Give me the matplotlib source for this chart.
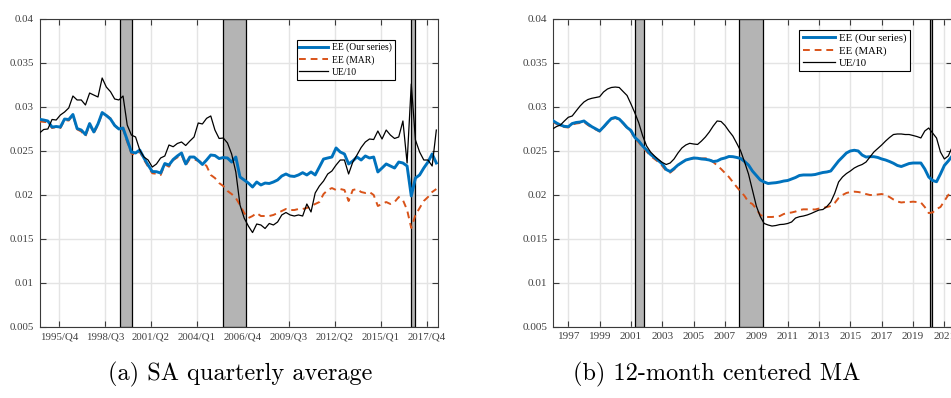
import numpy as np
import matplotlib
matplotlib.use("Agg")
import matplotlib.pyplot as plt

# ---------------- data ----------------
# (a) quarterly series, one value per quarter (index 0..95)
ee_quarterly = [
    0.02859, 0.02851, 0.02840, 0.02771, 0.02777, 0.02771, 0.02862, 0.02857, 0.02914, 0.02754,
    0.02737, 0.02686, 0.02811, 0.02715, 0.02806, 0.02936, 0.02902, 0.02862, 0.02789, 0.02749,
    0.02760, 0.02624, 0.02487, 0.02476, 0.02510, 0.02419, 0.02339, 0.02265, 0.02263, 0.02248,
    0.02356, 0.02339, 0.02402, 0.02442, 0.02476, 0.02351, 0.02430, 0.02430, 0.02390, 0.02345,
    0.02396, 0.02453, 0.02447, 0.02413, 0.02424, 0.02419, 0.02373, 0.02430, 0.02203, 0.02169,
    0.02134, 0.02089, 0.02146, 0.02112, 0.02134, 0.02129, 0.02146, 0.02169, 0.02214, 0.02237,
    0.02214, 0.02209, 0.02226, 0.02252, 0.02226, 0.02260, 0.02226, 0.02316, 0.02407, 0.02419,
    0.02430, 0.02533, 0.02487, 0.02465, 0.02351, 0.02385, 0.02430, 0.02396, 0.02442, 0.02419,
    0.02430, 0.02260, 0.02305, 0.02351, 0.02328, 0.02305, 0.02373, 0.02362, 0.02328, 0.01987,
    0.02191, 0.02226, 0.02305, 0.02373, 0.02465, 0.02362]
mar_quarterly = [
    0.02835, 0.02830, 0.02825, 0.02760, 0.02770, 0.02760, 0.02850, 0.02845, 0.02905, 0.02745,
    0.02720, 0.02665, 0.02800, 0.02700, 0.02795, 0.02925, 0.02905, 0.02870, 0.02790, 0.02740,
    0.02745, 0.02600, 0.02470, 0.02455, 0.02490, 0.02400, 0.02320, 0.02245, 0.02240, 0.02225,
    0.02345, 0.02320, 0.02395, 0.02425, 0.02455, 0.02335, 0.02410, 0.02405, 0.02385, 0.02370,
    0.02328, 0.02226, 0.02191, 0.02134, 0.02100, 0.02044, 0.02009, 0.01964, 0.01884, 0.01793,
    0.01736, 0.01759, 0.01793, 0.01759, 0.01759, 0.01759, 0.01771, 0.01793, 0.01816, 0.01839,
    0.01827, 0.01827, 0.01839, 0.01839, 0.01850, 0.01873, 0.01896, 0.01918, 0.02009, 0.02055,
    0.02077, 0.02055, 0.02066, 0.02055, 0.01930, 0.02055, 0.02066, 0.02032, 0.02021, 0.02032,
    0.01998, 0.01873, 0.01896, 0.01918, 0.01896, 0.01918, 0.01975, 0.01941, 0.01828, 0.01623,
    0.01770, 0.01850, 0.01930, 0.01975, 0.02032, 0.02066]
ue_quarterly = [
    0.02703, 0.02743, 0.02749, 0.02857, 0.02851, 0.02908, 0.02942, 0.02988, 0.03124, 0.03079,
    0.03079, 0.03022, 0.03158, 0.03135, 0.03113, 0.03329, 0.03226, 0.03173, 0.03090, 0.03079,
    0.03124, 0.02794, 0.02680, 0.02658, 0.02510, 0.02430, 0.02396, 0.02316, 0.02351, 0.02419,
    0.02442, 0.02567, 0.02547, 0.02584, 0.02601, 0.02561, 0.02612, 0.02658, 0.02817, 0.02806,
    0.02870, 0.02897, 0.02737, 0.02641, 0.02646, 0.02590, 0.02464, 0.02260, 0.01884, 0.01736,
    0.01645, 0.01571, 0.01668, 0.01657, 0.01617, 0.01674, 0.01657, 0.01691, 0.01771, 0.01799,
    0.01771, 0.01759, 0.01771, 0.01759, 0.01896, 0.01805, 0.02021, 0.02100, 0.02157, 0.02237,
    0.02271, 0.02339, 0.02396, 0.02396, 0.02237, 0.02373, 0.02453, 0.02538, 0.02601, 0.02635,
    0.02629, 0.02726, 0.02635, 0.02737, 0.02680, 0.02641, 0.02658, 0.02840, 0.02362, 0.03261,
    0.02624, 0.02487, 0.02396, 0.02396, 0.02328, 0.02737]
quarter_tick_labels = ["1995/Q4", "1998/Q3", "2001/Q2", "2004/Q1", "2006/Q4",
                       "2009/Q3", "2012/Q2", "2015/Q1", "2017/Q4"]
recessions_quarterly = [(19.27, 22.07), (44.0, 49.53), (88.84, 89.9)]

# (b) 12-month centered moving average, sampled every quarter from 1996
ee_ma = [
    0.02845, 0.02817, 0.02794, 0.02779, 0.02775, 0.02811, 0.02823, 0.02828, 0.02840, 0.02806,
    0.02775, 0.02751, 0.02726, 0.02772, 0.02823, 0.02868, 0.02880, 0.02862, 0.02817, 0.02766,
    0.02732, 0.02652, 0.02612, 0.02555, 0.02510, 0.02459, 0.02425, 0.02390, 0.02351, 0.02288,
    0.02265, 0.02299, 0.02339, 0.02368, 0.02396, 0.02408, 0.02419, 0.02416, 0.02408, 0.02404,
    0.02396, 0.02379, 0.02385, 0.02408, 0.02419, 0.02436, 0.02434, 0.02425, 0.02413, 0.02379,
    0.02339, 0.02271, 0.02220, 0.02169, 0.02146, 0.02129, 0.02134, 0.02138, 0.02146, 0.02157,
    0.02163, 0.02180, 0.02197, 0.02220, 0.02226, 0.02226, 0.02226, 0.02231, 0.02243, 0.02254,
    0.02260, 0.02271, 0.02328, 0.02385, 0.02430, 0.02476, 0.02499, 0.02507, 0.02499, 0.02453,
    0.02430, 0.02434, 0.02434, 0.02425, 0.02408, 0.02396, 0.02379, 0.02359, 0.02334, 0.02322,
    0.02339, 0.02356, 0.02362, 0.02362, 0.02362, 0.02294, 0.02203, 0.02163, 0.02149, 0.02237,
    0.02334, 0.02385, 0.02442]
mar_ma = [
    0.02834, 0.02806, 0.02783, 0.02771, 0.02766, 0.02800, 0.02811, 0.02817, 0.02828, 0.02794,
    0.02766, 0.02743, 0.02720, 0.02766, 0.02817, 0.02862, 0.02874, 0.02857, 0.02811, 0.02760,
    0.02720, 0.02641, 0.02595, 0.02538, 0.02493, 0.02442, 0.02408, 0.02373, 0.02328, 0.02271,
    0.02252, 0.02288, 0.02334, 0.02368, 0.02396, 0.02408, 0.02415, 0.02415, 0.02413, 0.02415,
    0.02413, 0.02373, 0.02334, 0.02294, 0.02248, 0.02203, 0.02146, 0.02089, 0.02038, 0.01987,
    0.01918, 0.01896, 0.01839, 0.01771, 0.01753, 0.01748, 0.01748, 0.01753, 0.01759, 0.01782,
    0.01793, 0.01799, 0.01810, 0.01827, 0.01835, 0.01835, 0.01835, 0.01833, 0.01844, 0.01850,
    0.01861, 0.01873, 0.01907, 0.01964, 0.01998, 0.02021, 0.02032, 0.02036, 0.02032, 0.02024,
    0.02009, 0.01998, 0.01998, 0.02004, 0.02009, 0.01998, 0.01975, 0.01947, 0.01924, 0.01913,
    0.01918, 0.01918, 0.01922, 0.01918, 0.01913, 0.01861, 0.01793, 0.01799, 0.01839, 0.01861,
    0.01930, 0.01998, 0.02044]
ue_ma = [
    0.02749, 0.02777, 0.02794, 0.02840, 0.02882, 0.02897, 0.02954, 0.03010, 0.03056, 0.03084,
    0.03098, 0.03107, 0.03116, 0.03170, 0.03204, 0.03221, 0.03226, 0.03221, 0.03175, 0.03130,
    0.03033, 0.02931, 0.02817, 0.02669, 0.02555, 0.02487, 0.02442, 0.02402, 0.02368, 0.02345,
    0.02362, 0.02408, 0.02476, 0.02533, 0.02567, 0.02586, 0.02578, 0.02573, 0.02612, 0.02658,
    0.02715, 0.02783, 0.02840, 0.02834, 0.02789, 0.02726, 0.02669, 0.02586, 0.02499, 0.02373,
    0.02237, 0.02055, 0.01873, 0.01753, 0.01674, 0.01657, 0.01645, 0.01651, 0.01662, 0.01665,
    0.01674, 0.01691, 0.01736, 0.01751, 0.01759, 0.01771, 0.01788, 0.01808, 0.01827, 0.01833,
    0.01867, 0.01918, 0.02017, 0.02146, 0.02203, 0.02242, 0.02271, 0.02305, 0.02328, 0.02345,
    0.02373, 0.02430, 0.02487, 0.02527, 0.02567, 0.02612, 0.02652, 0.02686, 0.02692, 0.02692,
    0.02686, 0.02686, 0.02675, 0.02663, 0.02647, 0.02726, 0.02760, 0.02703, 0.02646, 0.02487,
    0.02408, 0.02442, 0.02544]
ma_start_year = 1996.0
year_ticks = list(range(1997, 2022, 2))
recessions_ma = [(2001.23, 2001.85), (2007.92, 2009.42), (2020.06, 2020.24)]

y_ticks = [0.005, 0.01, 0.015, 0.02, 0.025, 0.03, 0.035, 0.04]
y_tick_labels = ["0.005", "0.01", "0.015", "0.02", "0.025", "0.03", "0.035", "0.04"]

# ---------------- style ----------------
BLUE = "#0072BD"
ORANGE = "#D95319"
AXIS_GRAY = "#3a3a3a"
SERIF = ["Liberation Serif", "DejaVu Serif"]

plt.rcParams["font.family"] = SERIF

fig = plt.figure(figsize=(9.51, 3.98), dpi=100)
ax_a = fig.add_axes([39.5 / 951, 1 - 326.7 / 398, 398.5 / 951, 307.7 / 398])
ax_b = fig.add_axes([553 / 951, 1 - 326.7 / 398, 398.5 / 951, 307.7 / 398])


def style_axes(ax, tick_size):
    ax.set_axisbelow(True)
    ax.grid(True, color="#e4e4e4", linewidth=1.0)
    for sp in ax.spines.values():
        sp.set_color(AXIS_GRAY)
        sp.set_linewidth(0.8)
    ax.tick_params(direction="in", length=4.5, width=0.8, color=AXIS_GRAY,
                   top=True, right=True, labelsize=tick_size,
                   labelcolor="#404040", pad=4)
    ax.set_ylim(0.005, 0.04)
    ax.set_yticks(y_ticks)
    ax.set_yticklabels(y_tick_labels)


def shade(ax, spans):
    for a, b in spans:
        ax.axvspan(a, b, facecolor="#b4b4b4", edgecolor="black",
                   linewidth=0.9, zorder=1)


def draw_series(ax, x, ee, mar, ue):
    h1, = ax.plot(x, ee, color=BLUE, linewidth=2.1, zorder=4,
                  label="EE (Our series)")
    h2, = ax.plot(x, mar, color=ORANGE, linewidth=1.4, dashes=(3.5, 2.5),
                  zorder=3, label="EE (MAR)")
    h3, = ax.plot(x, ue, color="black", linewidth=0.9, zorder=5,
                  label="UE/10")
    return [h1, h2, h3]


# (a) quarterly averages
xq = np.arange(len(ee_quarterly))
style_axes(ax_a, 7.8)
shade(ax_a, recessions_quarterly)
handles = draw_series(ax_a, xq, ee_quarterly, mar_quarterly, ue_quarterly)
ax_a.set_xlim(0, 95.4)
ax_a.set_xticks([4.67 + 11 * k for k in range(len(quarter_tick_labels))])
ax_a.set_xticklabels(quarter_tick_labels)
leg = ax_a.legend(handles=handles, loc="upper left", bbox_to_anchor=(0.645, 0.932),
                  fontsize=6.9, frameon=True, fancybox=False, framealpha=1,
                  edgecolor="black", borderpad=0.3, labelspacing=0.3,
                  handlelength=3.0, handletextpad=0.4, borderaxespad=0)
leg.get_frame().set_linewidth(0.8)

# (b) 12-month centered moving average
xm = ma_start_year + 0.25 * np.arange(len(ee_ma))
style_axes(ax_b, 8.1)
shade(ax_b, recessions_ma)
handles = draw_series(ax_b, xm, ee_ma, mar_ma, ue_ma)
ax_b.set_xlim(1996.024, 2021.455)
ax_b.set_xticks(year_ticks)
ax_b.set_xticklabels([str(y) for y in year_ticks])
leg = ax_b.legend(handles=handles, loc="upper left", bbox_to_anchor=(0.618, 0.964),
                  fontsize=7.75, frameon=True, fancybox=False, framealpha=1,
                  edgecolor="black", borderpad=0.3, labelspacing=0.25,
                  handlelength=3.0, handletextpad=0.4, borderaxespad=0)
leg.get_frame().set_linewidth(0.8)

# sub-captions
fig.text(240 / 951, 1 - 374 / 398, "(a) SA quarterly average", family="cmr10",
         fontsize=17.5, ha="center", va="center")
fig.text(717 / 951, 1 - 374 / 398, "(b) 12-month centered MA", family="cmr10",
         fontsize=17.5, ha="center", va="center")

fig.savefig("out.png", dpi=100)
